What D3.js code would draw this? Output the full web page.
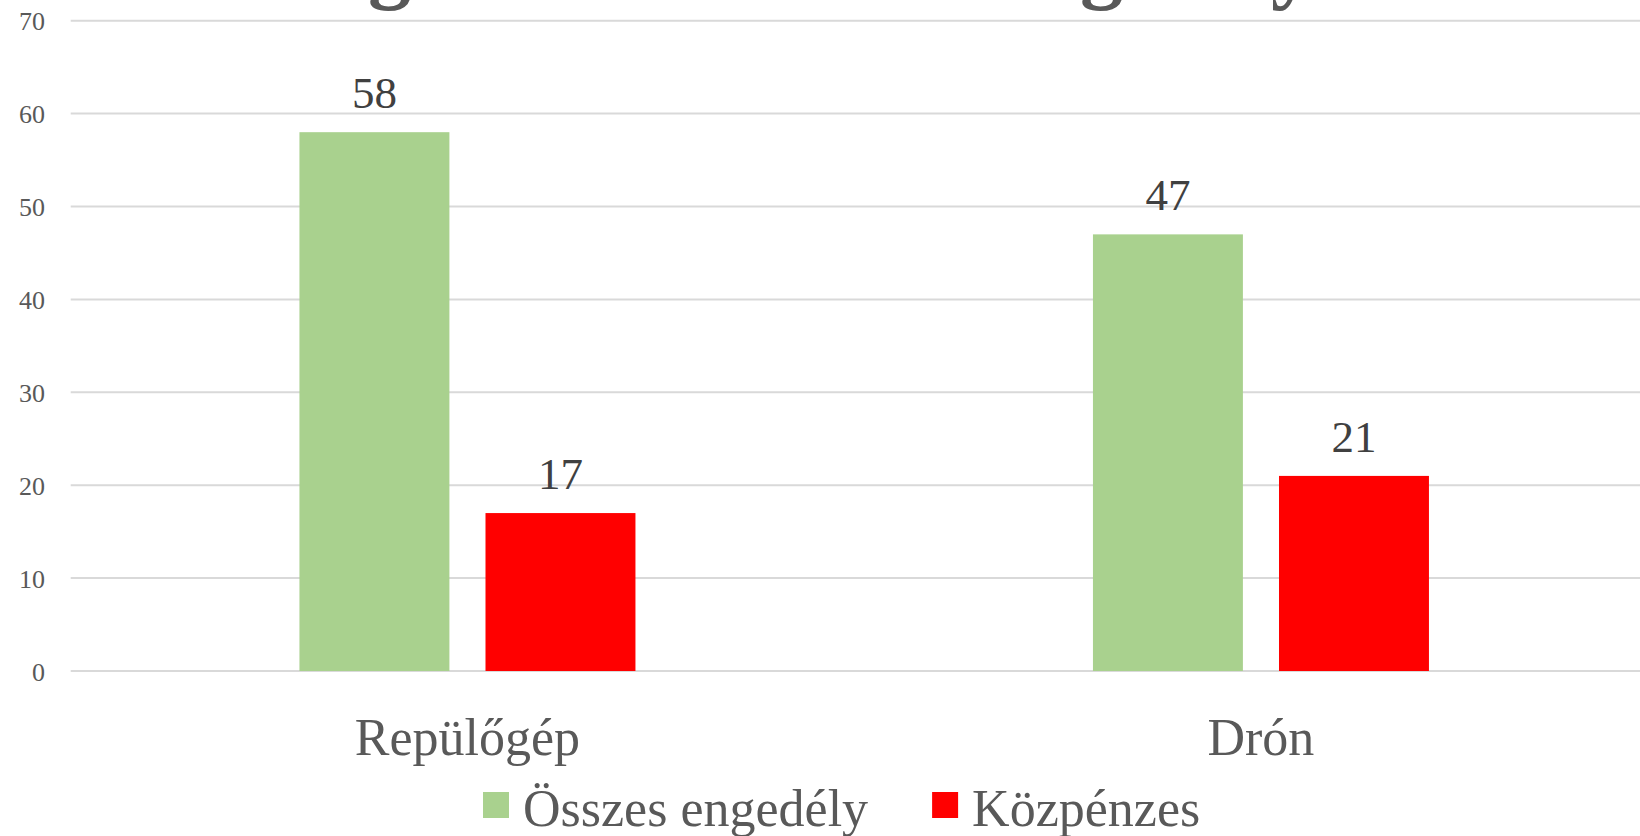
<!DOCTYPE html>
<html>
<head>
<meta charset="utf-8">
<script src="https://cdn.jsdelivr.net/npm/d3@7/dist/d3.min.js"></script>
<style>
  html, body { margin: 0; padding: 0; background: #fff; }
  svg { display: block; }
  text { font-family: "Liberation Serif", "Times New Roman", serif; }
</style>
</head>
<body>
<svg id="chart" width="1640" height="836"></svg>
<script>
  // data
  const categories = ['Repülőgép', 'Drón'];
  const seriesNames = ['Összes engedély', 'Közpénzes'];
  const seriesValues = [
    [58, 47],   // Összes engedély
    [17, 21]    // Közpénzes
  ];
  const yTicks = [0, 10, 20, 30, 40, 50, 60, 70];
  const titleText = 'Légi felvételezési engedélyek';

  const colors = ['#a9d18e', '#ff0000'];

  const W = 1640, H = 836;
  const svg = d3.select('#chart');

  const x0 = d3.scaleBand().domain(categories).range([70.7, 1657.7]);
  const x1 = d3.scaleBand().domain(seriesNames).range([-168, 168]).paddingInner(0.194);
  const y = d3.scaleLinear().domain([0, 70]).range([671, 20.7]);

  // title, mostly cropped above the frame (as in the original)
  const title = svg.append('text')
    .attr('y', -8)
    .attr('font-size', 86)
    .attr('font-weight', 'bold')
    .attr('fill', '#595959')
    .text(titleText);
  try {
    const node = title.node();
    const first = titleText.indexOf('g');
    const second = titleText.lastIndexOf('g');
    const gap = node.getStartPositionOfChar(second).x - node.getStartPositionOfChar(first).x;
    const spaces = (titleText.slice(first, second).match(/ /g) || []).length;
    title.attr('word-spacing', spaces ? (712 - gap) / spaces : 0);
    const gx = node.getStartPositionOfChar(second).x;
    title.attr('x', 1080 - gx);
  } catch {}

  // grid
  svg.append('g')
    .selectAll('line').data(yTicks).join('line')
    .attr('x1', 70.7).attr('x2', W)
    .attr('y1', d => y(d)).attr('y2', d => y(d))
    .attr('stroke', '#d9d9d9')
    .attr('stroke-width', 2);

  // y axis labels
  const yAxis = svg.append('g')
    .attr('transform', 'translate(45,0)')
    .call(d3.axisLeft(y).tickValues(yTicks).tickSize(0).tickPadding(0));
  yAxis.select('.domain').remove();
  yAxis.selectAll('text')
    .attr('font-family', '"Liberation Serif", "Times New Roman", serif')
    .attr('font-size', 26)
    .attr('fill', '#595959')
    .attr('dy', '0.35em');

  // bars
  const rows = [];
  seriesNames.forEach((s, si) => {
    categories.forEach((c, ci) => rows.push({ s, si, c, v: seriesValues[si][ci] }));
  });
  const cx = c => x0(c) + x0.bandwidth() / 2;

  svg.append('g')
    .selectAll('rect').data(rows).join('rect')
    .attr('x', d => cx(d.c) + x1(d.s))
    .attr('y', d => y(d.v))
    .attr('width', x1.bandwidth())
    .attr('height', d => y(0) - y(d.v))
    .attr('fill', d => colors[d.si]);

  svg.append('g')
    .selectAll('text').data(rows).join('text')
    .attr('x', d => cx(d.c) + x1(d.s) + x1.bandwidth() / 2)
    .attr('y', d => y(d.v) - 24)
    .attr('text-anchor', 'middle')
    .attr('font-size', 45)
    .attr('fill', '#404040')
    .text(d => d.v);

  // category labels
  svg.append('g')
    .selectAll('text').data(categories).join('text')
    .attr('x', d => cx(d))
    .attr('y', 755)
    .attr('text-anchor', 'middle')
    .attr('font-size', 52)
    .attr('fill', '#595959')
    .text(d => d);

  // legend
  const legend = svg.append('g').attr('transform', 'translate(483,0)');
  let lx = 0;
  seriesNames.forEach((s, i) => {
    const item = legend.append('g').attr('transform', `translate(${lx},0)`);
    item.append('rect')
      .attr('x', 0).attr('y', 792)
      .attr('width', 26).attr('height', 26)
      .attr('fill', colors[i]);
    const t = item.append('text')
      .attr('x', 40).attr('y', 826)
      .attr('font-size', 52)
      .attr('fill', '#595959')
      .text(s);
    lx += 40 + t.node().getComputedTextLength() + 64;
  });
</script>
</body>
</html>
